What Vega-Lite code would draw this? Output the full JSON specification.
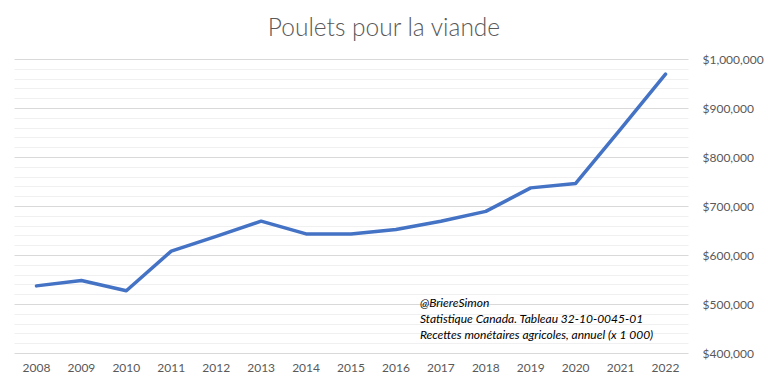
{
  "$schema": "https://vega.github.io/schema/vega-lite/v6.json",
  "width": 674,
  "height": 294,
  "autosize": {"type": "none"},
  "padding": {"left": 14, "top": 59, "right": 80, "bottom": 32},
  "background": "white",
  "title": {
    "text": "Poulets pour la viande",
    "font": "Lato",
    "fontSize": 24.5,
    "fontWeight": 300,
    "color": "#595959",
    "anchor": "middle",
    "frame": "group",
    "dx": 33,
    "dy": 30,
    "baseline": "alphabetic",
    "offset": 23
  },
  "config": {
    "view": {"stroke": null},
    "font": "Lato"
  },
  "datasets": {
    "series": [
      {"year": "2008", "value": 537000},
      {"year": "2009", "value": 548000},
      {"year": "2010", "value": 527000},
      {"year": "2011", "value": 608000},
      {"year": "2012", "value": 638000},
      {"year": "2013", "value": 669000},
      {"year": "2014", "value": 643000},
      {"year": "2015", "value": 643000},
      {"year": "2016", "value": 652000},
      {"year": "2017", "value": 669000},
      {"year": "2018", "value": 689000},
      {"year": "2019", "value": 737000},
      {"year": "2020", "value": 746000},
      {"year": "2021", "value": 857000},
      {"year": "2022", "value": 969000}
    ],
    "notes": [
      {"year": "2016", "value": 502500, "label": "@BriereSimon"},
      {"year": "2016", "value": 469500, "label": "Statistique Canada. Tableau 32-10-0045-01"},
      {"year": "2016", "value": 436500, "label": "Recettes monétaires agricoles, annuel (x 1 000)"}
    ]
  },
  "layer": [
    {
      "data": {"name": "series"},
      "mark": {"type": "line", "color": "#4472C4", "strokeWidth": 3.5, "strokeCap": "round", "strokeJoin": "round"},
      "encoding": {
        "x": {
          "field": "year", "type": "ordinal",
          "scale": {"type": "band", "paddingInner": 0, "paddingOuter": 0},
          "axis": {
            "title": null, "domain": false, "ticks": false, "grid": false,
            "labelAngle": 0, "labelPadding": 9, "labelFontSize": 12,
            "labelColor": "#595959", "labelFont": "Lato"
          }
        },
        "y": {
          "field": "value", "type": "quantitative",
          "scale": {"domain": [400000, 1000000], "nice": false, "zero": false},
          "axis": {
            "orient": "right", "title": null, "domain": false, "ticks": false,
            "tickCount": 40,
            "values": [400000, 420000, 440000, 460000, 480000, 500000, 520000, 540000, 560000, 580000, 600000, 620000, 640000, 660000, 680000, 700000, 720000, 740000, 760000, 780000, 800000, 820000, 840000, 860000, 880000, 900000, 920000, 940000, 960000, 980000, 1000000],
            "labelExpr": "datum.value % 100000 === 0 ? '$' + format(datum.value, ',') : ''",
            "labelOverlap": false,
            "labelBound": false,
            "gridColor": {"condition": {"test": "datum.value % 100000 === 0", "value": "#d9d9d9"}, "value": "#f0f0f0"},
            "gridWidth": 1,
            "labelPadding": 14, "labelFontSize": 12, "labelColor": "#595959", "labelFont": "Lato"
          }
        }
      }
    },
    {
      "data": {"name": "notes"},
      "mark": {"type": "text", "align": "left", "baseline": "middle", "dx": 24, "font": "Lato", "fontSize": 12, "fontStyle": "italic", "color": "#000000"},
      "encoding": {
        "x": {"field": "year", "type": "ordinal"},
        "y": {"field": "value", "type": "quantitative"},
        "text": {"field": "label"}
      }
    }
  ]
}
